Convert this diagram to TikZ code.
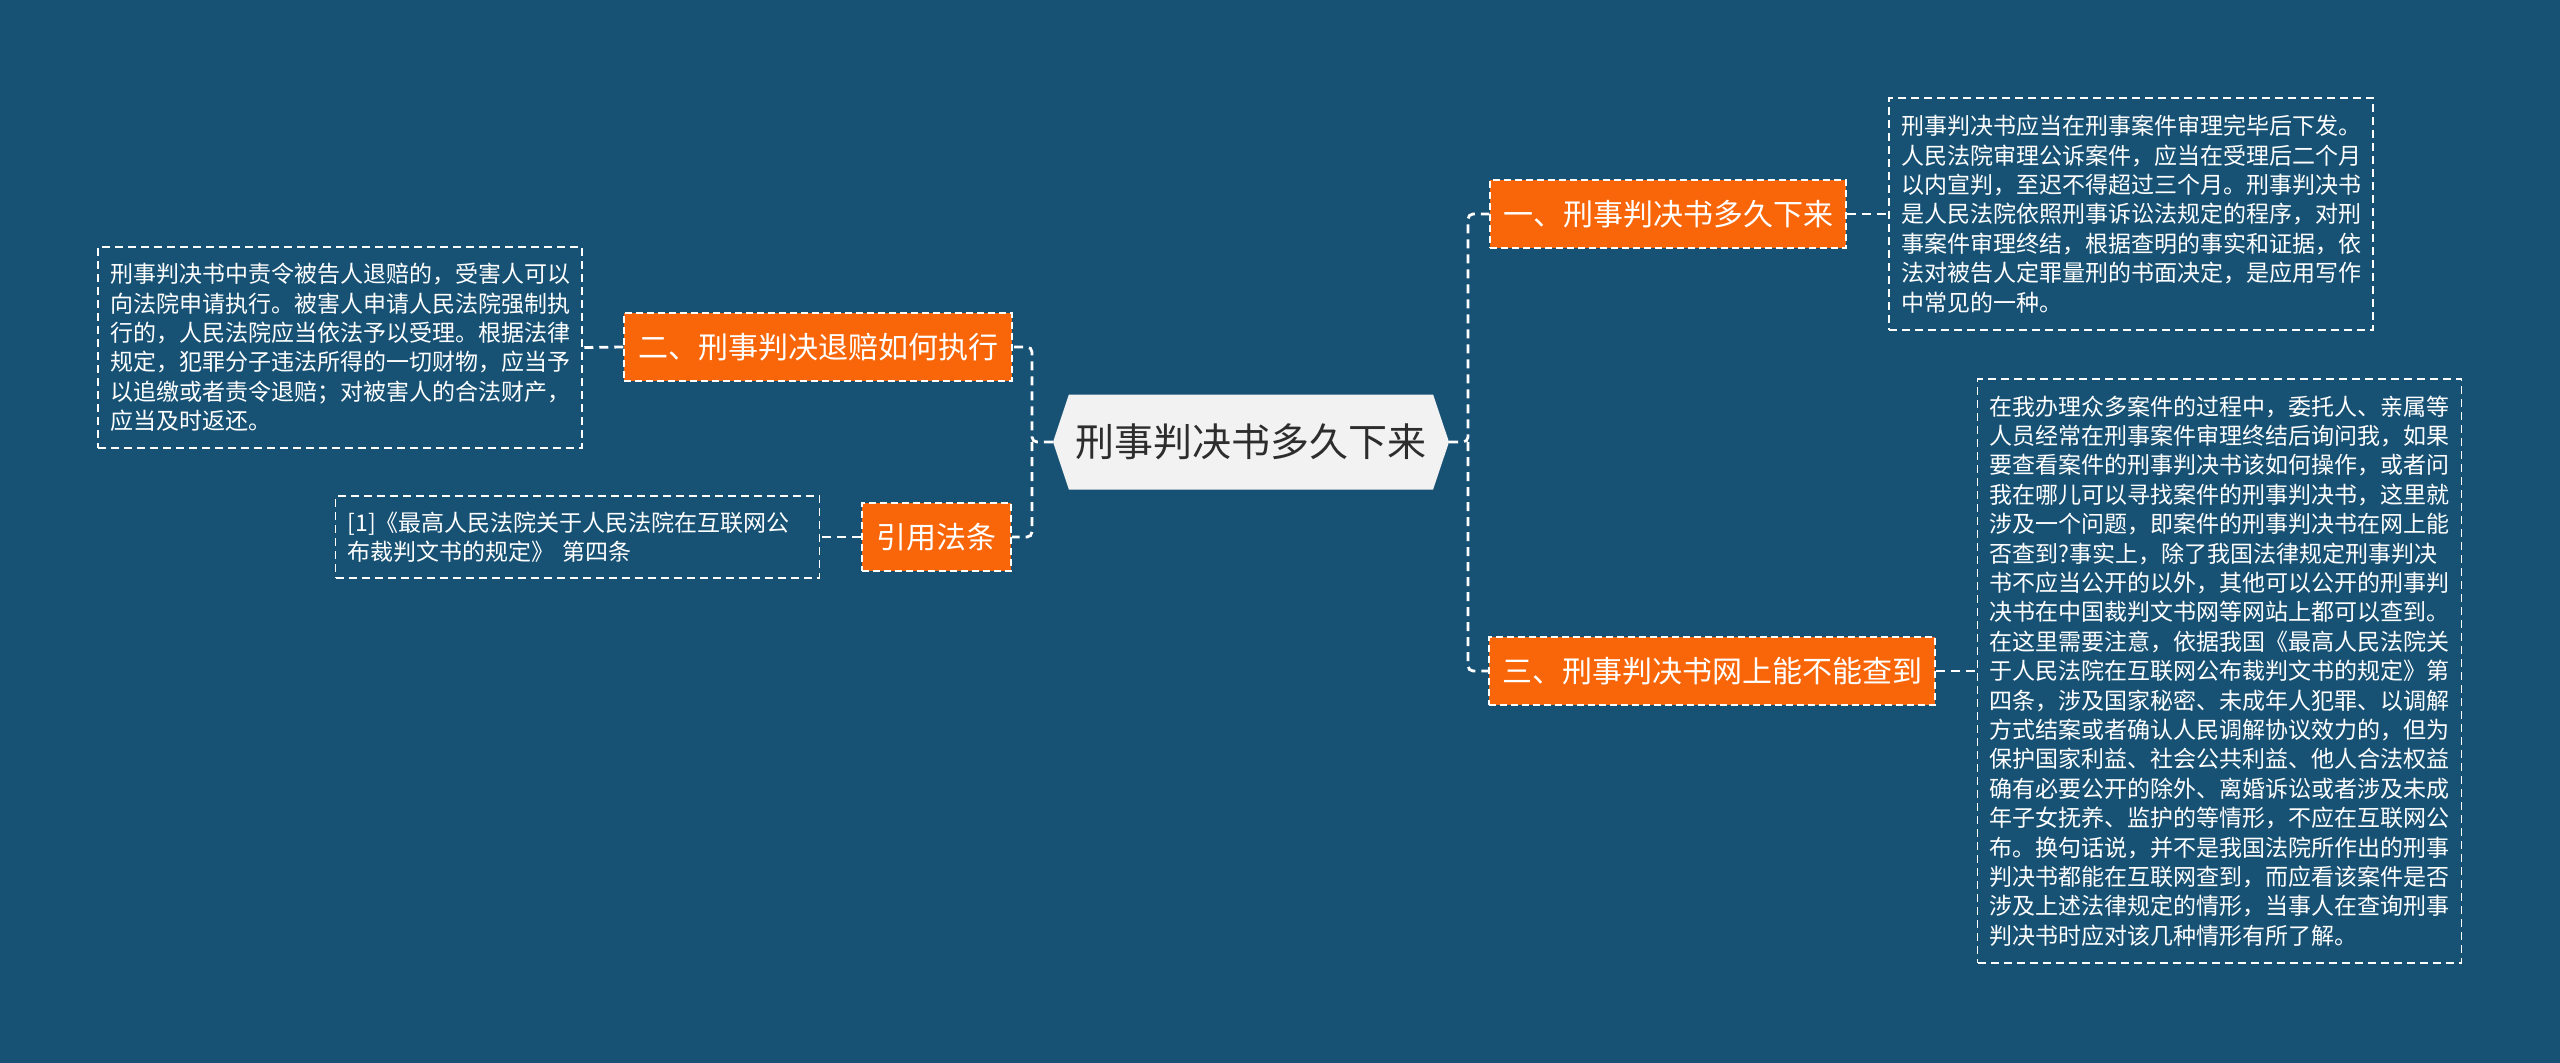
\documentclass[tikz,border=0pt]{standalone}
\usepackage{fontspec}
\setmainfont{Noto Sans CJK SC}
\usepackage{xcolor}
\usetikzlibrary{positioning,shapes.symbols}
\definecolor{bgblue}{RGB}{23,82,117}
\definecolor{topicorange}{RGB}{248,102,9}
\definecolor{rootgrey}{RGB}{242,242,242}
\definecolor{rootink}{RGB}{45,45,45}

\begin{document}
\begin{tikzpicture}[x=1pt, y=-1pt,
  link/.style={white, line width=2.8pt, dash pattern=on 9pt off 6pt, rounded corners=5pt},
  root/.style={signal, signal to=west and east, signal pointer angle=143, fill=rootgrey,
    text=rootink, minimum width=396pt, minimum height=95pt, inner sep=0pt,
    font=\fontsize{39}{45}\selectfont},
  topic/.style={fill=topicorange, draw=white, line width=1.5pt, dash pattern=on 7pt off 4pt,
    text=white, minimum height=68pt, inner xsep=0pt, font=\fontsize{30}{36}\selectfont},
  note/.style={draw=white, line width=1.5pt, dash pattern=on 8pt off 5pt, text=white,
    text width=460pt, align=left, inner xsep=12pt, inner ysep=0pt,
    font=\fontsize{23}{29.4}\selectfont}]
\fill[bgblue] (0,0) rectangle (2560,1063);
\useasboundingbox (0,0) rectangle (2560,1063);
% centre
\node[root] (root) at (1251,442) {刑事判决书多久下来};
% right branch
\node[topic, minimum width=356pt] (n1) at (1668,214) {一、刑事判决书多久下来};
\node[topic, minimum width=446pt] (n3) at (1712,671) {三、刑事判决书网上能不能查到};
\node[note, minimum height=232pt] (b1) at (2131,214) {刑事判决书应当在刑事案件审理完毕后下发。\\
人民法院审理公诉案件，应当在受理后二个月\\
以内宣判，至迟不得超过三个月。刑事判决书\\
是人民法院依照刑事诉讼法规定的程序，对刑\\
事案件审理终结，根据查明的事实和证据，依\\
法对被告人定罪量刑的书面决定，是应用写作\\
中常见的一种。};
\node[note, minimum height=584pt] (b3) at (2219.5,671) {在我办理众多案件的过程中，委托人、亲属等\\
人员经常在刑事案件审理终结后询问我，如果\\
要查看案件的刑事判决书该如何操作，或者问\\
我在哪儿可以寻找案件的刑事判决书，这里就\\
涉及一个问题，即案件的刑事判决书在网上能\\
否查到?事实上，除了我国法律规定刑事判决\\
书不应当公开的以外，其他可以公开的刑事判\\
决书在中国裁判文书网等网站上都可以查到。\\
在这里需要注意，依据我国《最高人民法院关\\
于人民法院在互联网公布裁判文书的规定》第\\
四条，涉及国家秘密、未成年人犯罪、以调解\\
方式结案或者确认人民调解协议效力的，但为\\
保护国家利益、社会公共利益、他人合法权益\\
确有必要公开的除外、离婚诉讼或者涉及未成\\
年子女抚养、监护的等情形，不应在互联网公\\
布。换句话说，并不是我国法院所作出的刑事\\
判决书都能在互联网查到，而应看该案件是否\\
涉及上述法律规定的情形，当事人在查询刑事\\
判决书时应对该几种情形有所了解。};
% left branch
\node[topic, minimum width=388pt] (n2) at (818,347) {二、刑事判决退赔如何执行};
\node[topic, minimum width=149pt] (n4) at (936.5,537) {引用法条};
\node[note, minimum height=201pt] (b2) at (340,347.5) {刑事判决书中责令被告人退赔的，受害人可以\\
向法院申请执行。被害人申请人民法院强制执\\
行的，人民法院应当依法予以受理。根据法律\\
规定，犯罪分子违法所得的一切财物，应当予\\
以追缴或者责令退赔；对被害人的合法财产，\\
应当及时返还。};
\node[note, minimum height=82pt] (b4) at (577.5,537) {[1]《最高人民法院关于人民法院在互联网公\\
布裁判文书的规定》 第四条};
% connectors
\coordinate (lj) at (1032,442);
\coordinate (rj) at (1468,442);
\draw[link] (root.west) -- (lj) |- (n2.east);
\draw[link] (lj) |- (n4.east);
\draw[link] (root.east) -- (rj) |- (n1.west);
\draw[link] (rj) |- (n3.west);
\foreach \a/\b in {n1/b1, n3/b3} \draw[link] (\a.east) -- (\b.west);
\foreach \a/\b in {n2/b2, n4/b4} \draw[link] (\a.west) -- (\b.east);
\end{tikzpicture}
\end{document}
